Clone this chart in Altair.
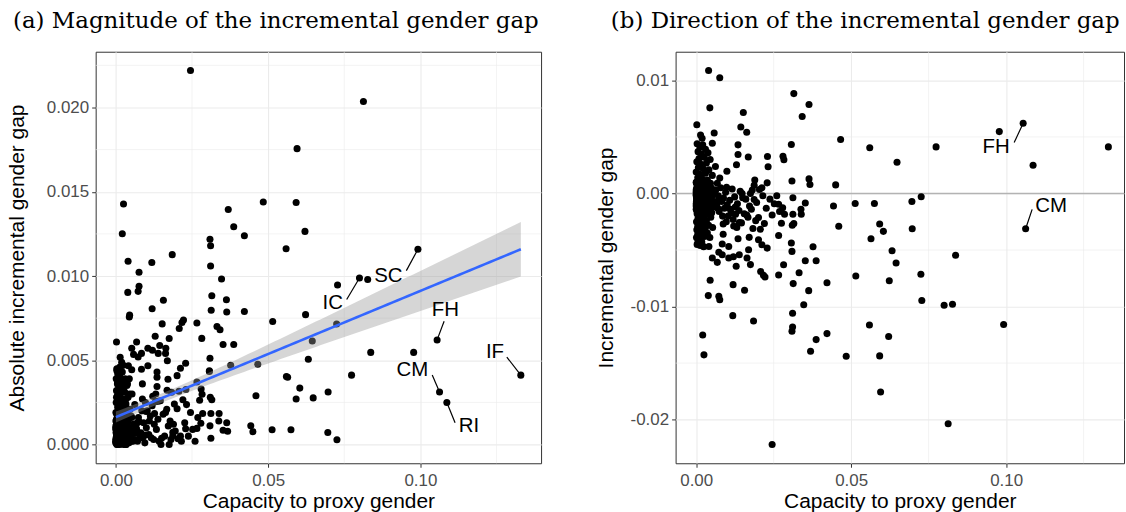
import altair as alt
import numpy as np
import pandas as pd

# ---------------- data (capacity to proxy gender, incremental gender gap) -------------
cap_high = [0.1055, 0.0978, 0.1087, 0.1330, 0.0774, 0.0648, 0.0726, 0.0696, 0.1063, 0.0592,
            0.0604, 0.0697, 0.0632, 0.0645, 0.0837, 0.0725, 0.0623, 0.0728, 0.0800, 0.0827,
            0.0992, 0.0621, 0.0592, 0.0595, 0.0813, 0.0559, 0.0564, 0.0560, 0.0575]
gap_high = [0.00621, 0.00547, 0.00250, 0.00412, 0.00412, 0.00277, -0.00029, -0.00071, -0.00312, -0.00270,
            -0.00335, -0.00312, -0.00506, -0.00615, -0.00547, -0.00715, -0.00771, -0.00947, -0.00988, -0.00980,
            -0.01159, -0.01265, -0.01436, -0.01756, -0.02036, -0.01162, -0.00400, 0.00404, -0.00088]

cap_mid = [0.0245, 0.0484, 0.0369, 0.0387, 0.0422, 0.0309, 0.0311, 0.0311, 0.0347, 0.0222,
           0.0217, 0.0208, 0.0266, 0.0282, 0.0313, 0.0332, 0.0363, 0.0352, 0.0387, 0.0377,
           0.0309, 0.0307, 0.0422, 0.0515, 0.0266, 0.0229, 0.0212, 0.0201, 0.0315, 0.0364,
           0.0342, 0.0466, 0.0307, 0.0230, 0.0280, 0.0283, 0.0232, 0.0229, 0.0212, 0.0309,
           0.0364, 0.0367, 0.0450, 0.0260, 0.0266, 0.0279, 0.0285, 0.0312, 0.0312, 0.0310,
           0.0315, 0.0352, 0.0338, 0.0339, 0.0443, 0.0513, 0.0460, 0.0275, 0.0201, 0.0220,
           0.0207, 0.0204]
gap_mid = [-0.02220, -0.01439, -0.01395, -0.01292, -0.01239, -0.01218, -0.01180, -0.01059, -0.00983, -0.00739,
           -0.00724, -0.00689, -0.00721, -0.00630, -0.00797, -0.00700, -0.00859, -0.00594, -0.00594, -0.00471,
           -0.00512, -0.00438, -0.00789, -0.00730, -0.00371, -0.00483, -0.00453, -0.00409, 0.00883, 0.00787,
           0.00681, 0.00477, 0.00433, 0.00327, 0.00330, 0.00298, 0.00237, 0.00094, 0.00050, 0.00111,
           0.00129, 0.00079, 0.00076, -0.00020, -0.00096, -0.00126, -0.00184, -0.00038, -0.00184, -0.00281,
           -0.00266, -0.00085, -0.00140, -0.00184, -0.00111, -0.00088, -0.00290, -0.00263, -0.00213, -0.00266,
           -0.00316, 0.00035]

cap_low = [0.0185, 0.0118, 0.0073, 0.0076, 0.0119, 0.0156, 0.0129, 0.0175, 0.0164, 0.0139,
           0.0169, 0.0120, 0.0105, 0.0068, 0.0084, 0.0073, 0.0171, 0.0135, 0.0084, 0.0105,
           0.0076, 0.0152, 0.0144, 0.0163, 0.0135, 0.0135, 0.0168, 0.0130, 0.0099, 0.0076,
           0.0189, 0.0187, 0.0098, 0.0148, 0.0175, 0.0150, 0.0187, 0.0139, 0.0121, 0.0110,
           0.0103, 0.0127, 0.0087, 0.0087, 0.0065, 0.0070, 0.0062]
gap_low = [-0.01127, -0.01080, -0.00909, -0.00939, -0.00806, -0.00856, -0.00643, -0.00629, -0.00571, -0.00541,
           -0.00497, -0.00560, -0.00571, -0.00609, -0.00541, -0.00520, -0.00388, -0.00400, -0.00447, -0.00468,
           0.01023, 0.00716, 0.00588, 0.00541, 0.00430, 0.00345, 0.00322, 0.00254, 0.00196, 0.00136,
           0.00120, 0.00073, 0.00056, 0.00000, 0.00000, -0.00038, -0.00053, -0.00257, -0.00287, -0.00140,
           -0.00200, -0.00184, -0.00270, -0.00360, -0.00070, -0.00130, 0.00238]

cap_low2 = [0.0063, 0.0071, 0.0079, 0.0088, 0.0095, 0.0108, 0.0116, 0.0124, 0.0133, 0.0142,
            0.0160, 0.0172, 0.0181, 0.0195, 0.0215, 0.0238, 0.0252, 0.0066, 0.0074, 0.0082,
            0.0091, 0.0100, 0.0113, 0.0126, 0.0138, 0.0155, 0.0167, 0.0178, 0.0192, 0.0226,
            0.0245, 0.0269, 0.0068, 0.0085, 0.0097, 0.0119, 0.0131, 0.0146, 0.0163, 0.0183]
gap_low2 = [0.0003, -0.0002, 0.0005, -0.0004, 0.0001, -0.0006, 0.0004, -0.0003, -0.0009, 0.0002,
            -0.0005, -0.0011, 0.0003, -0.0008, -0.0002, -0.0005, -0.0009, -0.0010, -0.0016, -0.0007,
            -0.0013, -0.0010, -0.0017, -0.0012, -0.0015, -0.0018, -0.0021, -0.0014, -0.0024, -0.0013,
            -0.0019, -0.0016, 0.0009, -0.0020, -0.0025, -0.0023, -0.0030, -0.0026, -0.0019, -0.0031]

cap_edge = [0.0021, 0.0025, 0.0039, 0.0045, 0.0052, 0.0041, 0.0040, 0.0044, 0.0002, 0.0014,
            0.0058, 0.0052, 0.0019]
gap_edge = [-0.01251, -0.01427, -0.00903, -0.00768, -0.00571, -0.00468, 0.01088, 0.00757, 0.00608, 0.00518,
            0.00535, 0.00444, 0.00488]

cap_core = [0.0003, 0.0012, 0.0021, 0.0030, 0.0006, 0.0017, 0.0038, 0.0009, 0.0026, 0.0045,
            0.0002, 0.0014, 0.0033, 0.0007, 0.0022, 0.0041, 0.0000, 0.0012, 0.0030, 0.0052,
            0.0005, 0.0019, 0.0036, 0.0001, 0.0010, 0.0025, 0.0046, 0.0004, 0.0015, 0.0032,
            0.0000, 0.0008, 0.0020, 0.0040, 0.0057, 0.0003, 0.0013, 0.0027, 0.0006, 0.0017,
            0.0035, 0.0050, 0.0001, 0.0010, 0.0023, 0.0042, 0.0004, 0.0015, 0.0030, 0.0058,
            0.0000, 0.0008, 0.0020, 0.0037, 0.0003, 0.0012, 0.0026, 0.0047, 0.0006, 0.0017,
            0.0033, 0.0001, 0.0010, 0.0023, 0.0040, 0.0005, 0.0014, 0.0029, 0.0053, 0.0002,
            0.0009, 0.0020, 0.0036, 0.0005, 0.0015, 0.0027, 0.0001, 0.0011, 0.0044, 0.0006,
            0.0018, 0.0003, 0.0013, 0.0024]
gap_core = [0.0044, 0.0041, 0.0043, 0.0039, 0.0037, 0.0035, 0.0036, 0.0031, 0.0032, 0.0030,
            0.0028, 0.0026, 0.0027, 0.0023, 0.0022, 0.0021, 0.0019, 0.0017, 0.0018, 0.0016,
            0.0014, 0.0013, 0.0012, 0.0010, 0.0009, 0.0008, 0.0009, 0.0006, 0.0005, 0.0004,
            0.0003, 0.0002, 0.0001, 0.0002, 0.0003, 0.0000, -0.0001, -0.0002, -0.0004, -0.0005,
            -0.0004, -0.0006, -0.0007, -0.0008, -0.0009, -0.0010, -0.0011, -0.0012, -0.0013, -0.0012,
            -0.0014, -0.0015, -0.0016, -0.0017, -0.0018, -0.0019, -0.0020, -0.0021, -0.0022, -0.0023,
            -0.0024, -0.0025, -0.0026, -0.0027, -0.0028, -0.0029, -0.0030, -0.0031, -0.0030, -0.0032,
            -0.0033, -0.0034, -0.0035, -0.0036, -0.0037, -0.0038, -0.0039, -0.0040, -0.0039, -0.0042,
            -0.0043, -0.0045, -0.0046, -0.0047]

cap_core2 = [0.0001, 0.0004, 0.0007, 0.0011, 0.0016, 0.0022, 0.0029, 0.0037, 0.0048, 0.0056,
             0.0002, 0.0005, 0.0009, 0.0013, 0.0018, 0.0025, 0.0033, 0.0043, 0.0051, 0.0000,
             0.0003, 0.0006, 0.0010, 0.0015, 0.0021, 0.0028, 0.0039, 0.0049, 0.0001, 0.0004,
             0.0008, 0.0012, 0.0017, 0.0024, 0.0031, 0.0045, 0.0055, 0.0002, 0.0006, 0.0009,
             0.0014, 0.0019, 0.0027, 0.0035, 0.0000, 0.0003, 0.0007, 0.0011, 0.0016, 0.0023,
             0.0032, 0.0041, 0.0002, 0.0005, 0.0010, 0.0014, 0.0020, 0.0028, 0.0038, 0.0050]
gap_core2 = [0.0009, 0.0007, 0.0008, 0.0006, 0.0007, 0.0005, 0.0006, 0.0004, 0.0005, 0.0002,
             0.0004, 0.0003, 0.0002, 0.0003, 0.0001, 0.0002, 0.0000, 0.0001, -0.0002, 0.0001,
             -0.0001, 0.0000, -0.0002, -0.0001, -0.0003, -0.0003, -0.0002, -0.0003, -0.0004, -0.0005,
             -0.0004, -0.0006, -0.0005, -0.0006, -0.0007, -0.0005, -0.0008, -0.0008, -0.0009, -0.0007,
             -0.0009, -0.0008, -0.0010, -0.0009, -0.0011, -0.0010, -0.0012, -0.0011, -0.0013, -0.0012,
             -0.0011, -0.0014, -0.0015, -0.0014, -0.0016, -0.0015, -0.0017, -0.0016, -0.0018, -0.0017]

cap_core3 = [0.0000, 0.0004, 0.0008, 0.0012, 0.0016, 0.0020, 0.0024, 0.0028, 0.0032, 0.0036,
             0.0002, 0.0006, 0.0010, 0.0014, 0.0018, 0.0022, 0.0026, 0.0030, 0.0034, 0.0039,
             0.0001, 0.0005, 0.0009, 0.0013, 0.0017, 0.0021, 0.0025, 0.0029, 0.0033, 0.0038,
             0.0000, 0.0003, 0.0007, 0.0011, 0.0015, 0.0019, 0.0023, 0.0027, 0.0031, 0.0035,
             0.0002, 0.0005, 0.0009, 0.0013, 0.0017, 0.0021, 0.0025, 0.0029, 0.0034, 0.0040,
             0.0001, 0.0004, 0.0008, 0.0012, 0.0016, 0.0020, 0.0024, 0.0028, 0.0032, 0.0037,
             0.0000, 0.0003, 0.0006, 0.0010, 0.0014, 0.0018, 0.0022, 0.0026, 0.0030, 0.0036,
             0.0002, 0.0005, 0.0009, 0.0012, 0.0016, 0.0019, 0.0023, 0.0027, 0.0031, 0.0035,
             0.0001, 0.0004, 0.0007, 0.0011, 0.0015, 0.0018, 0.0022, 0.0026, 0.0033, 0.0038,
             0.0000, 0.0006, 0.0010, 0.0014, 0.0019, 0.0024, 0.0028, 0.0031, 0.0035, 0.0040]
gap_core3 = [0.0010, 0.0008, 0.0009, 0.0007, 0.0008, 0.0006, 0.0007, 0.0005, 0.0006, 0.0004,
             0.0005, 0.0006, 0.0004, 0.0005, 0.0003, 0.0004, 0.0002, 0.0003, 0.0001, 0.0002,
             0.0002, 0.0001, 0.0003, 0.0000, 0.0002, 0.0001, 0.0000, -0.0001, 0.0000, -0.0001,
             -0.0001, -0.0002, -0.0001, -0.0003, -0.0002, -0.0003, -0.0002, -0.0004, -0.0003, -0.0002,
             -0.0004, -0.0005, -0.0004, -0.0005, -0.0004, -0.0006, -0.0005, -0.0006, -0.0005, -0.0004,
             -0.0007, -0.0006, -0.0007, -0.0008, -0.0007, -0.0008, -0.0007, -0.0009, -0.0008, -0.0007,
             -0.0009, -0.0010, -0.0009, -0.0010, -0.0011, -0.0009, -0.0010, -0.0011, -0.0010, -0.0009,
             -0.0012, -0.0011, -0.0012, -0.0011, -0.0012, -0.0011, -0.0012, -0.0011, -0.0012, -0.0011,
             0.0003, -0.0003, 0.0006, -0.0006, 0.0001, -0.0009, 0.0004, -0.0004, 0.0002, -0.0007,
             -0.0002, 0.0007, -0.0008, 0.0003, -0.0005, 0.0009, -0.0001, -0.0010, 0.0005, -0.0003]

# labelled points
a_codes = ["IC", "SC", "FH", "CM", "RI", "IF"]
a_cap = [0.0800, 0.0992, 0.1055, 0.1063, 0.1087, 0.1330]
a_val = [0.00988, 0.01159, 0.00621, 0.00312, 0.00250, 0.00412]
a_text_x = [0.0712, 0.0895, 0.1082, 0.0974, 0.1160, 0.1245]
a_text_y = [0.00838, 0.01003, 0.00796, 0.00442, 0.00112, 0.00549]
a_seg_x = [0.0758, 0.0954, 0.1078, 0.1039, 0.1114, 0.1284]
a_seg_y = [0.00861, 0.01032, 0.00732, 0.00413, 0.00130, 0.00519]

b_codes = ["FH", "CM"]
b_cap = [0.1055, 0.1063]
b_val = [0.00621, -0.00312]
b_text_x = [0.0968, 0.1145]
b_text_y = [0.00415, -0.00115]
b_seg_x = [0.1026, 0.1084]
b_seg_y = [0.00450, -0.00141]

x_major = [0.0, 0.05, 0.10]
x_minor = [0.025, 0.075, 0.125]
a_y_major = [0.0, 0.005, 0.010, 0.015, 0.020]
a_y_minor = [0.0025, 0.0075, 0.0125, 0.0175, 0.0225]
b_y_major = [-0.02, -0.01, 0.0, 0.01]
b_y_minor = [-0.015, -0.005, 0.005]

# ---------------- build tables ---------------------------------------------------------
capacity = cap_high + cap_mid + cap_low + cap_low2 + cap_edge + cap_core + cap_core2 + cap_core3
gap = gap_high + gap_mid + gap_low + gap_low2 + gap_edge + gap_core + gap_core2 + gap_core3
df = pd.DataFrame({"capacity": capacity, "gap": gap})
df["abs_gap"] = df["gap"].abs()

# linear fit with 95% confidence band (as geom_smooth(method = "lm"))
x = df["capacity"].to_numpy()
y = df["abs_gap"].to_numpy()
n = len(x)
slope, intercept = np.polyfit(x, y, 1)
resid = y - (intercept + slope * x)
s = np.sqrt((resid ** 2).sum() / (n - 2))
sxx = ((x - x.mean()) ** 2).sum()
xs = np.linspace(x.min(), x.max(), 80)
fit = intercept + slope * xs
se = s * np.sqrt(1.0 / n + (xs - x.mean()) ** 2 / sxx)
tq = 1.966
smooth = pd.DataFrame({"capacity": xs, "fit": fit, "lo": fit - tq * se, "hi": fit + tq * se})


def expand(lo, hi, m=0.05):
    d = (hi - lo) * m
    return [lo - d, hi + d]


A_W, B_W = 447, 450
x_dom = expand(min(capacity), max(capacity))
# panel (b) is drawn a little wider in the original and runs off the page on the right
xb_dom = [x_dom[0], x_dom[0] + (x_dom[1] - x_dom[0]) * B_W / 455.0]
a_dom = expand(0.0, float(df["abs_gap"].max()))
b_dom = expand(min(gap), max(gap))

FONT = "Liberation Sans"
SERIF = "DejaVu Serif"
GRID = "#EBEBEB"

axis_style = dict(grid=True, gridColor=GRID, gridWidth=1.1, domain=False,
                  ticks=True, tickColor="#333333", tickSize=4, tickWidth=1,
                  labelColor="#4D4D4D", labelFontSize=17, labelFont=FONT,
                  titleFont=FONT, titleFontSize=21, titleFontWeight="normal",
                  titleColor="black")


def x_axis():
    return alt.Axis(values=x_major, format=".2f", title="Capacity to proxy gender",
                    labelPadding=5, titlePadding=3, minExtent=24, maxExtent=24,
                    **axis_style)


def make_x(dom):
    def enc(field="capacity"):
        return alt.X(f"{field}:Q", scale=alt.Scale(domain=dom, nice=False, zero=False), axis=x_axis())
    return enc


xa = make_x(x_dom)
xb = make_x(xb_dom)


def minor_rules(xenc, dom, ydom, yaxis):
    xr = alt.Chart(pd.DataFrame({"v": x_minor})).mark_rule(color=GRID, strokeWidth=0.6).encode(
        x=xenc("v"))
    yr = alt.Chart(pd.DataFrame({"v": ydom})).mark_rule(color=GRID, strokeWidth=0.6).encode(
        y=alt.Y("v:Q", scale=alt.Scale(domain=dom, nice=False, zero=False), axis=yaxis))
    return xr, yr


def title(text, dx):
    return alt.TitleParams(text, font=SERIF, fontSize=23, fontWeight="normal", color="black",
                           anchor="start", frame="group", dx=dx, offset=1, baseline="alphabetic")


# ---------------- panel (a) -------------------------------------------------------------
a_yaxis = alt.Axis(values=a_y_major, format=".3f", title="Absolute incremental gender gap",
                   labelPadding=3, titlePadding=12, minExtent=56, maxExtent=56, **axis_style)


def ya(field):
    return alt.Y(f"{field}:Q", scale=alt.Scale(domain=a_dom, nice=False, zero=False), axis=a_yaxis)


a_xr, a_yr = minor_rules(xa, a_dom, a_y_minor, a_yaxis)
a_points = alt.Chart(df).mark_circle(size=50, color="black", opacity=1).encode(
    x=xa(), y=ya("abs_gap"))
a_band = alt.Chart(smooth).mark_area(color="#999999", opacity=0.4).encode(
    x=xa(), y=ya("lo"), y2="hi:Q")
a_line = alt.Chart(smooth).mark_line(color="#3366FF", strokeWidth=2.6).encode(
    x=xa(), y=ya("fit"))
a_lab = pd.DataFrame({"code": a_codes, "cap": a_cap, "val": a_val,
                      "tx": a_text_x, "ty": a_text_y, "sx": a_seg_x, "sy": a_seg_y})
a_seg = alt.Chart(a_lab).mark_rule(color="black", strokeWidth=1.2).encode(
    x=xa("cap"), y=ya("val"), x2="sx:Q", y2="sy:Q")
a_txt = alt.Chart(a_lab).mark_text(font=FONT, fontSize=20.5, color="black",
                                   align="center", baseline="middle").encode(
    x=xa("tx"), y=ya("ty"), text="code:N")

panel_a = alt.layer(a_xr, a_yr, a_points, a_band, a_line, a_seg, a_txt).properties(
    width=A_W, height=413, title=title("(a) Magnitude of the incremental gender gap", -83))

# ---------------- panel (b) -------------------------------------------------------------
b_yaxis = alt.Axis(values=b_y_major, title="Incremental gender gap",
                   labelExpr="replace(format(datum.value, '.2f'), '\u2212', '-')",
                   labelPadding=3, titlePadding=10, minExtent=49, maxExtent=49, **axis_style)


def yb(field):
    return alt.Y(f"{field}:Q", scale=alt.Scale(domain=b_dom, nice=False, zero=False), axis=b_yaxis)


b_xr, b_yr = minor_rules(xb, b_dom, b_y_minor, b_yaxis)
b_zero = alt.Chart(pd.DataFrame({"v": [0.0]})).mark_rule(color="#B3B3B3", strokeWidth=1.3).encode(
    y=yb("v"))
b_points = alt.Chart(df).mark_circle(size=50, color="black", opacity=1).encode(
    x=xb(), y=yb("gap"))
b_lab = pd.DataFrame({"code": b_codes, "cap": b_cap, "val": b_val,
                      "tx": b_text_x, "ty": b_text_y, "sx": b_seg_x, "sy": b_seg_y})
b_seg = alt.Chart(b_lab).mark_rule(color="black", strokeWidth=1.2).encode(
    x=xb("cap"), y=yb("val"), x2="sx:Q", y2="sy:Q")
b_txt = alt.Chart(b_lab).mark_text(font=FONT, fontSize=20.5, color="black",
                                   align="center", baseline="middle").encode(
    x=xb("tx"), y=yb("ty"), text="code:N")

panel_b = alt.layer(b_xr, b_yr, b_zero, b_points, b_seg, b_txt).properties(
    width=B_W, height=413, title=title("(b) Direction of the incremental gender gap", -65))

chart = alt.hconcat(panel_a, panel_b, spacing=53).properties(
    padding={"left": 6, "top": 8, "right": 0, "bottom": 0}
).configure_view(stroke="#333333", strokeWidth=1)

chart.save("out.html", embed_options={"renderer": "svg", "actions": False})
